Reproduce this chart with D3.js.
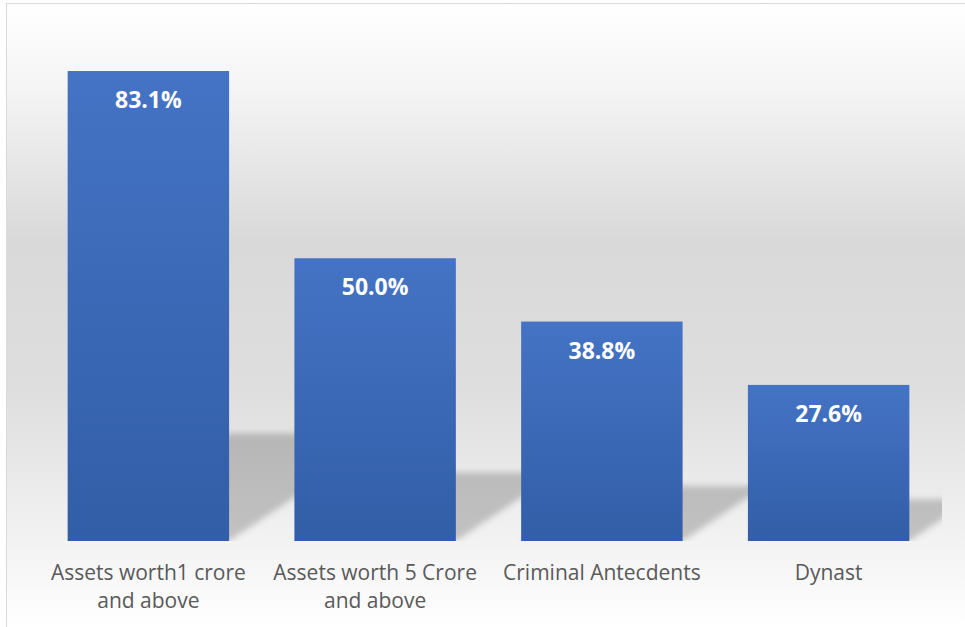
<!DOCTYPE html>
<html>
<head>
<meta charset="utf-8">
<script src="https://cdn.jsdelivr.net/npm/d3@7"></script>
<style>
  html, body { margin: 0; padding: 0; background: #ffffff; }
  svg { display: block; }
</style>
</head>
<body>
<svg id="chart" width="965" height="627"></svg>
<script>
// Share of candidates by profile
const categories = [
  "Assets worth1 crore and above",
  "Assets worth 5 Crore and above",
  "Criminal Antecdents",
  "Dynast"
];
const values = [83.1, 50.0, 38.8, 27.6];
const valueLabels = ["83.1%", "50.0%", "38.8%", "27.6%"];

const W = 965, H = 627;
const plot = { left: 35, right: 942, top: 32, bottom: 541 };

const svg = d3.select("#chart");
const defs = svg.append("defs");

// chart area: soft grey band through the middle
const bg = defs.append("linearGradient")
  .attr("id", "bgGrad")
  .attr("gradientUnits", "userSpaceOnUse")
  .attr("x1", 0).attr("y1", 3).attr("x2", 0).attr("y2", H);
[[0, "#ffffff"], [0.14, "#f4f4f4"], [0.38, "#d9d9d9"], [0.62, "#dedede"], [0.86, "#f2f2f2"], [1, "#ffffff"]]
  .forEach(([o, c]) => bg.append("stop").attr("offset", o).attr("stop-color", c));

// bar fill: lighter blue at the top, deeper at the base
const barGrad = defs.append("linearGradient")
  .attr("id", "barGrad")
  .attr("x1", 0).attr("y1", 0).attr("x2", 0).attr("y2", 1);
barGrad.append("stop").attr("offset", 0).attr("stop-color", "#4573c5");
barGrad.append("stop").attr("offset", 1).attr("stop-color", "#325ea7");

defs.append("filter")
  .attr("id", "shadowBlur")
  .attr("x", "-20%").attr("y", "-30%").attr("width", "140%").attr("height", "160%")
  .append("feGaussianBlur").attr("stdDeviation", 3);

defs.append("clipPath").attr("id", "plotClip")
  .append("rect")
  .attr("x", plot.left).attr("y", plot.top)
  .attr("width", plot.right - plot.left).attr("height", plot.bottom - plot.top);

svg.append("rect")
  .attr("x", 6.5).attr("y", 3.5)
  .attr("width", W + 20).attr("height", H + 20)
  .attr("fill", "url(#bgGrad)")
  .attr("stroke", "#d9d9d9")
  .attr("stroke-width", 1);

const x = d3.scaleBand()
  .domain(categories)
  .range([plot.left, plot.right])
  .paddingInner(0.288)
  .paddingOuter(0.144);

const y = d3.scaleLinear()
  .domain([0, 90])
  .range([plot.bottom, plot.top]);

const data = categories.map((c, i) => ({ cat: c, v: values[i], label: valueLabels[i] }));

// perspective shadows cast back and to the right on the floor
const shadowG = svg.append("g").attr("clip-path", "url(#plotClip)");
shadowG.selectAll("path")
  .data(data)
  .join("path")
  .attr("d", d => {
    const x0 = x(d.cat), x1 = x0 + x.bandwidth();
    const base = y(0);
    const h = base - y(d.v);
    const sh = 0.21 * h + 9;
    const dx = 1.5 * sh;
    return `M${x0},${base}L${x1},${base}L${x1 + dx},${base - sh}L${x0 + dx},${base - sh}Z`;
  })
  .attr("fill", "#000")
  .attr("fill-opacity", 0.2)
  .attr("filter", "url(#shadowBlur)");

// bars
svg.append("g")
  .selectAll("rect")
  .data(data)
  .join("rect")
  .attr("x", d => x(d.cat))
  .attr("y", d => y(d.v))
  .attr("width", x.bandwidth())
  .attr("height", d => y(0) - y(d.v))
  .attr("fill", "url(#barGrad)");

// value labels inside the top of each bar
svg.append("g")
  .selectAll("text")
  .data(data)
  .join("text")
  .attr("x", d => x(d.cat) + x.bandwidth() / 2)
  .attr("y", d => y(d.v) + 37)
  .attr("text-anchor", "middle")
  .attr("font-family", "'Open Sans', sans-serif")
  .attr("font-weight", 700)
  .attr("font-size", 23)
  .attr("fill", "#ffffff")
  .text(d => d.label);

// category axis labels, wrapped to the band width
const catG = svg.append("g");
data.forEach(d => {
  const cx = x(d.cat) + x.bandwidth() / 2;
  const t = catG.append("text")
    .attr("x", cx)
    .attr("y", plot.bottom + 39)
    .attr("text-anchor", "middle")
    .attr("font-family", "'Open Sans', sans-serif")
    .attr("font-size", 21)
    .attr("fill", "#595959");
  const words = d.cat.split(" ");
  const maxW = x.step() - 4;
  let line = [];
  let tspan = t.append("tspan").attr("x", cx).attr("dy", 0);
  words.forEach(w => {
    line.push(w);
    tspan.text(line.join(" "));
    if (tspan.node().getComputedTextLength() > maxW && line.length > 1) {
      line.pop();
      tspan.text(line.join(" "));
      line = [w];
      tspan = t.append("tspan")
        .attr("x", cx)
        .attr("dy", 28)
        .text(w);
    }
  });
});
</script>
</body>
</html>
